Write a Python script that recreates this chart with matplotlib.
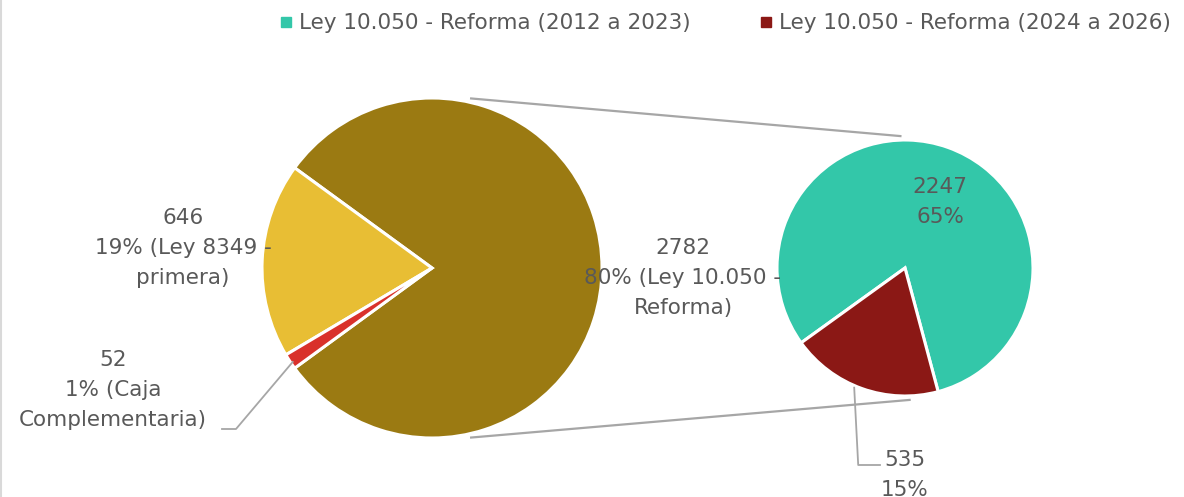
import numpy as np
import matplotlib.pyplot as plt
from matplotlib.lines import Line2D

# main pie
main_values = [2782, 646, 52]
main_labels = ["Ley 10.050 -\nReforma", "Ley 8349 -\nprimera", "Caja\nComplementaria"]
main_colors = ["#9B7A12", "#E8BE34", "#D9312B"]

# secondary pie (split of the first slice)
sub_values = [2247, 535]
sub_names = ["Ley 10.050 - Reforma (2012 a 2023)", "Ley 10.050 - Reforma (2024 a 2026)"]
sub_colors = ["#33C7A9", "#8B1815"]

TEXT = "#595959"
LINE = "#A6A6A6"
W, H = 1184, 497
plt.rcParams["font.family"] = ["DejaVu Sans"]

fig = plt.figure(figsize=(W / 100, H / 100), dpi=100)
ax = fig.add_axes([0, 0, 1, 1])
ax.axis("off")

total = sum(main_values)
main_c, main_r = (432, 229), 170
sub_c, sub_r = (905, 229), 128

main_frac = main_values[0] / total
ax.pie(main_values, colors=main_colors, center=main_c, radius=main_r,
       startangle=-180 * main_frac, counterclock=True,
       wedgeprops=dict(edgecolor="white", linewidth=2.2))
ax.pie(sub_values, colors=sub_colors, center=sub_c, radius=sub_r,
       startangle=-75, counterclock=True,
       wedgeprops=dict(edgecolor="white", linewidth=2.2))
ax.set_xlim(0, W)
ax.set_ylim(0, H)
ax.set_aspect("equal")


def polar(c, r, deg):
    a = np.radians(deg)
    return c[0] + r * np.cos(a), c[1] + r * np.sin(a)


# connector lines between the pies
for a_main, a_sub in [(77, 92), (-77, -88)]:
    x0, y0 = polar(main_c, main_r + 4, a_main)
    x1, y1 = polar(sub_c, sub_r + 4, a_sub)
    ax.plot([x0, x1], [y0, y1], color=LINE, lw=1.6, zorder=0)

fs = 15.5
style = dict(ha="center", va="center", fontsize=fs, color=TEXT, linespacing=1.6)
pct = [round(v / total * 100) for v in main_values]
ax.text(683, 219, f"{main_values[0]}\n{pct[0]}% ({main_labels[0]})", **style)
ax.text(183, 249, f"{main_values[1]}\n{pct[1]}% ({main_labels[1]})", **style)
ax.text(113, 107, f"{main_values[2]}\n{pct[2]}% ({main_labels[2]})", **style)

# leader for the small slice
lx, ly = polar(main_c, main_r - 2, 214)
ax.plot([222, 236, lx], [68, 68, ly], color=LINE, lw=1.3)

sub_pct = [round(v / total * 100) for v in sub_values]
ax.text(940, 295, f"{sub_values[0]}\n{sub_pct[0]}%", **style)
ax.text(905, 22, f"{sub_values[1]}\n{sub_pct[1]}%", **style)
bx, by = polar(sub_c, sub_r + 2, 247)
ax.plot([bx, bx + 4, 880], [by, 32, 32], color=LINE, lw=1.3)

handles = [Line2D([], [], marker="s", ls="", color=c, markersize=7) for c in sub_colors]
ax.legend(handles, sub_names, loc="upper right", bbox_to_anchor=(1.005, 1.012), ncol=2,
          frameon=False, fontsize=fs, labelcolor=TEXT, handletextpad=0.1,
          columnspacing=3.0, handlelength=1.0)

ax.plot([1, 1], [0, H], color="#D9D9D9", lw=1.5)

fig.savefig("out.png", dpi=100)
